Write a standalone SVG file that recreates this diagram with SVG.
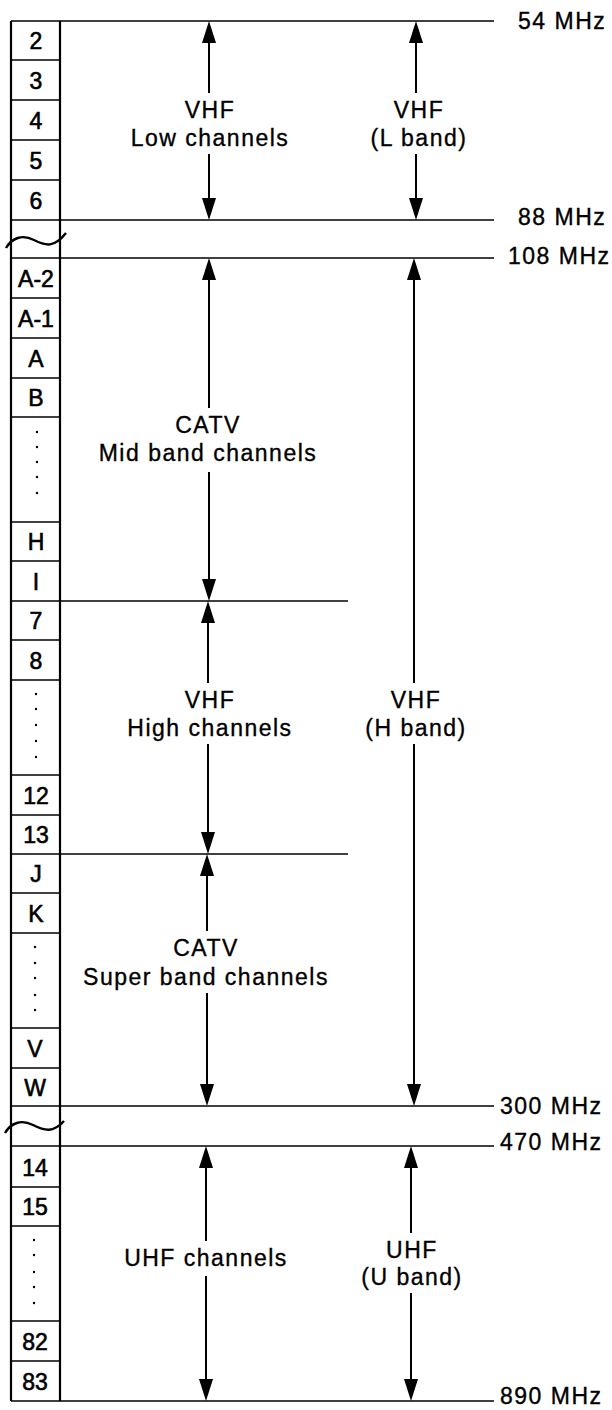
<svg xmlns="http://www.w3.org/2000/svg" width="612" height="1410" viewBox="0 0 612 1410">
<defs>
<marker id="ah" viewBox="0 0 22 14" refX="14" refY="7" markerWidth="22" markerHeight="14" markerUnits="userSpaceOnUse" orient="auto">
<path d="M0,0 L22,7 L0,14 z" fill="#000"/>
</marker>
<style>
.t{font-family:"Liberation Sans",Arial,Helvetica,sans-serif;font-size:23px;letter-spacing:1.5px;fill:#000;stroke:#000;stroke-width:0.35;text-anchor:middle}
.f{font-family:"Liberation Sans",Arial,Helvetica,sans-serif;font-size:23px;letter-spacing:1.5px;fill:#000;stroke:#000;stroke-width:0.35}
.c{font-family:"Liberation Sans",Arial,Helvetica,sans-serif;font-size:23px;fill:#000;stroke:#000;stroke-width:0.6;text-anchor:middle}
.cl{stroke:#000;stroke-width:1.6;fill:none}
.col{stroke:#000;stroke-width:2.2;fill:none}
.ln{stroke:#000;stroke-width:1.6;fill:none}
.ar{stroke:#000;stroke-width:2;fill:none;marker-end:url(#ah)}
.dot{fill:#000}
.wv{stroke:#000;stroke-width:2.4;fill:none}
</style>
</defs>
<rect width="612" height="1410" fill="#fff"/>

<g id="channel-column">
<line class="col" x1="11" y1="21" x2="11" y2="1401"/>
<line class="col" x1="60" y1="21" x2="60" y2="1401"/>
<g class="cl">
<line x1="11" y1="60" x2="60" y2="60"/>
<line x1="11" y1="100" x2="60" y2="100"/>
<line x1="11" y1="140" x2="60" y2="140"/>
<line x1="11" y1="180" x2="60" y2="180"/>
<line x1="11" y1="298" x2="60" y2="298"/>
<line x1="11" y1="338" x2="60" y2="338"/>
<line x1="11" y1="378" x2="60" y2="378"/>
<line x1="11" y1="417" x2="60" y2="417"/>
<line x1="11" y1="522" x2="60" y2="522"/>
<line x1="11" y1="561" x2="60" y2="561"/>
<line x1="11" y1="640" x2="60" y2="640"/>
<line x1="11" y1="680" x2="60" y2="680"/>
<line x1="11" y1="775" x2="60" y2="775"/>
<line x1="11" y1="815" x2="60" y2="815"/>
<line x1="11" y1="893" x2="60" y2="893"/>
<line x1="11" y1="933" x2="60" y2="933"/>
<line x1="11" y1="1028" x2="60" y2="1028"/>
<line x1="11" y1="1068" x2="60" y2="1068"/>
<line x1="11" y1="1187" x2="60" y2="1187"/>
<line x1="11" y1="1226" x2="60" y2="1226"/>
<line x1="11" y1="1321" x2="60" y2="1321"/>
<line x1="11" y1="1361" x2="60" y2="1361"/>
</g>
<path class="wv" d="M6,248 C12,238 22,234 34,240 S54,248 66,233"/>
<path class="wv" d="M5,1133 C11,1123 21,1119 33,1125 S53,1133 64,1121"/>
</g>

<g id="cell-2"><text class="c" x="36" y="49">2</text></g>
<g id="cell-3"><text class="c" x="36" y="89">3</text></g>
<g id="cell-4"><text class="c" x="36" y="129">4</text></g>
<g id="cell-5"><text class="c" x="36" y="169">5</text></g>
<g id="cell-6"><text class="c" x="36" y="209">6</text></g>
<g id="cell-A-2"><text class="c" x="36" y="287">A-2</text></g>
<g id="cell-A-1"><text class="c" x="36" y="327">A-1</text></g>
<g id="cell-A"><text class="c" x="36" y="367">A</text></g>
<g id="cell-B"><text class="c" x="36" y="406">B</text></g>
<g id="cell-dots-1" class="dot"><circle cx="37" cy="432" r="1.2"/><circle cx="37" cy="447" r="1.2"/><circle cx="37" cy="462" r="1.2"/><circle cx="37" cy="477" r="1.2"/><circle cx="37" cy="493" r="1.2"/></g>
<g id="cell-H"><text class="c" x="36" y="550">H</text></g>
<g id="cell-I"><text class="c" x="36" y="590">I</text></g>
<g id="cell-7"><text class="c" x="36" y="629">7</text></g>
<g id="cell-8"><text class="c" x="36" y="669">8</text></g>
<g id="cell-dots-2" class="dot"><circle cx="36" cy="694" r="1.2"/><circle cx="36" cy="709" r="1.2"/><circle cx="36" cy="725" r="1.2"/><circle cx="36" cy="741" r="1.2"/><circle cx="36" cy="757" r="1.2"/></g>
<g id="cell-12"><text class="c" x="36" y="804">12</text></g>
<g id="cell-13"><text class="c" x="36" y="843">13</text></g>
<g id="cell-J"><text class="c" x="36" y="882">J</text></g>
<g id="cell-K"><text class="c" x="36" y="922">K</text></g>
<g id="cell-dots-3" class="dot"><circle cx="35" cy="947" r="1.2"/><circle cx="35" cy="963" r="1.2"/><circle cx="35" cy="978" r="1.2"/><circle cx="35" cy="995" r="1.2"/><circle cx="35" cy="1010" r="1.2"/></g>
<g id="cell-V"><text class="c" x="35" y="1057">V</text></g>
<g id="cell-W"><text class="c" x="35" y="1096">W</text></g>
<g id="cell-14"><text class="c" x="35" y="1176">14</text></g>
<g id="cell-15"><text class="c" x="35" y="1215">15</text></g>
<g id="cell-dots-4" class="dot"><circle cx="34" cy="1240" r="1.2"/><circle cx="34" cy="1255" r="1.2"/><circle cx="34" cy="1272" r="1.2"/><circle cx="34" cy="1287" r="1.2"/><circle cx="34" cy="1303" r="1.2"/></g>
<g id="cell-82"><text class="c" x="35" y="1350">82</text></g>
<g id="cell-83"><text class="c" x="35" y="1390">83</text></g>

<g id="connectors">
<g id="freq-lines">
<line class="ln" x1="11" y1="21" x2="494" y2="21"/>
<line class="ln" x1="11" y1="220" x2="494" y2="220"/>
<line class="ln" x1="11" y1="258" x2="494" y2="258"/>
<line class="ln" x1="11" y1="601" x2="348" y2="601"/>
<line class="ln" x1="11" y1="854" x2="348" y2="854"/>
<line class="ln" x1="11" y1="1106" x2="494" y2="1106"/>
<line class="ln" x1="11" y1="1146" x2="494" y2="1146"/>
<line class="ln" x1="11" y1="1401" x2="494" y2="1401"/>
</g>
<g id="arrows">
<path class="ar" d="M209,93 L209,29"/>
<path class="ar" d="M209,154 L209,212"/>
<path class="ar" d="M416,93 L416,29"/>
<path class="ar" d="M416,154 L416,212"/>
<path class="ar" d="M209,408 L209,266"/>
<path class="ar" d="M209,472 L209,593"/>
<path class="ar" d="M208,683 L208,609"/>
<path class="ar" d="M208,744 L208,846"/>
<path class="ar" d="M207,931 L207,862"/>
<path class="ar" d="M207,993 L207,1098"/>
<path class="ar" d="M206,1241 L206,1154"/>
<path class="ar" d="M206,1276 L206,1393"/>
<path class="ar" d="M414,683 L414,266"/>
<path class="ar" d="M414,744 L414,1098"/>
<path class="ar" d="M411,1233 L411,1154"/>
<path class="ar" d="M411,1293 L411,1393"/>
</g>
</g>

<g id="label-vhf-low"><text class="t" x="210" y="118">VHF</text><text class="t" x="210" y="146">Low channels</text></g>
<g id="label-vhf-l-band"><text class="t" x="419" y="118">VHF</text><text class="t" x="419" y="146">(L band)</text></g>
<g id="label-catv-mid"><text class="t" x="208" y="433">CATV</text><text class="t" x="208" y="461">Mid band channels</text></g>
<g id="label-vhf-high"><text class="t" x="210" y="708">VHF</text><text class="t" x="210" y="736">High channels</text></g>
<g id="label-vhf-h-band"><text class="t" x="416" y="708">VHF</text><text class="t" x="416" y="736">(H band)</text></g>
<g id="label-catv-super"><text class="t" x="206" y="956">CATV</text><text class="t" x="206" y="985">Super band channels</text></g>
<g id="label-uhf-channels"><text class="t" x="206" y="1266">UHF channels</text></g>
<g id="label-uhf-u-band"><text class="t" x="412" y="1258">UHF</text><text class="t" x="412" y="1285">(U band)</text></g>

<g id="freq-54"><text class="f" x="518" y="29">54 MHz</text></g>
<g id="freq-88"><text class="f" x="518" y="225">88 MHz</text></g>
<g id="freq-108"><text class="f" x="508" y="264">108 MHz</text></g>
<g id="freq-300"><text class="f" x="500" y="1114">300 MHz</text></g>
<g id="freq-470"><text class="f" x="500" y="1150">470 MHz</text></g>
<g id="freq-890"><text class="f" x="500" y="1404">890 MHz</text></g>
</svg>
